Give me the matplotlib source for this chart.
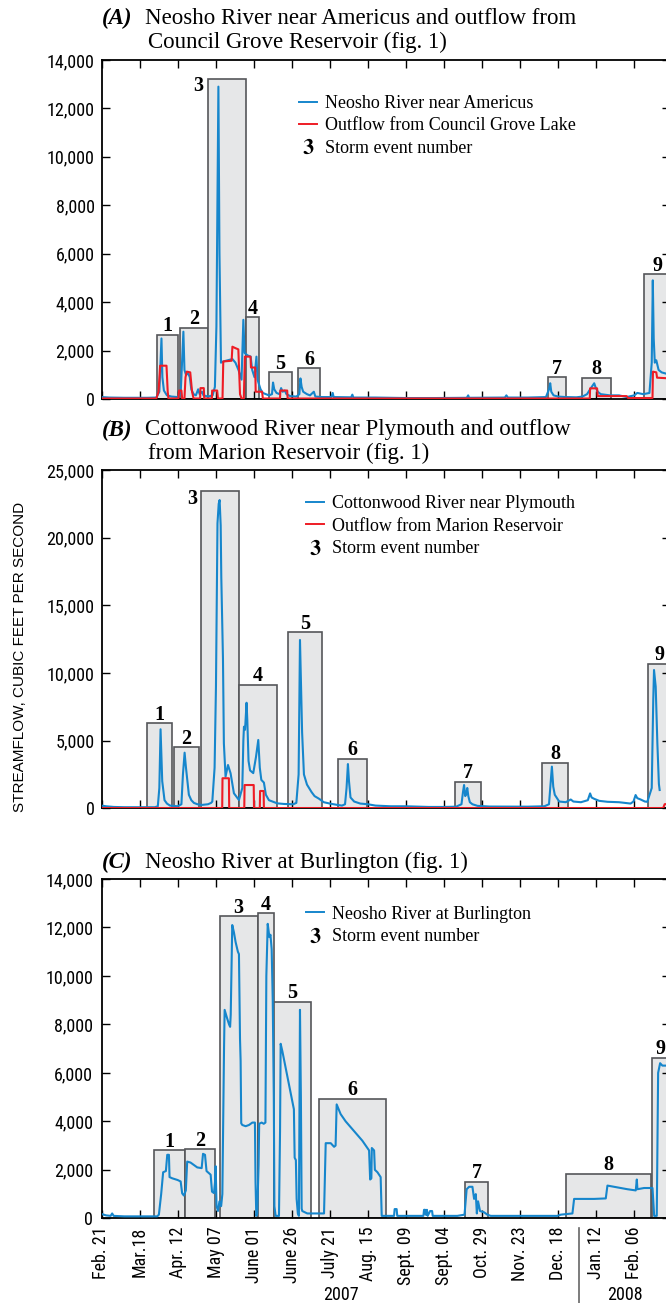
import matplotlib
matplotlib.use("Agg")
import matplotlib.pyplot as plt
import matplotlib.transforms as mtransforms
from matplotlib import font_manager
from matplotlib.lines import Line2D
from matplotlib.patches import Rectangle
from matplotlib.ticker import FuncFormatter

plt.rcParams['font.family'] = ['Liberation Serif', 'DejaVu Serif']
plt.rcParams['mathtext.fontset'] = 'stix'

# x axis = days since Feb. 21, 2007
tick_days = [0, 25, 50, 75, 100, 125, 150, 175, 200, 225, 250, 275, 300, 325, 350]
tick_labels = ["Feb. 21", "Mar.18", "Apr. 12", "May 07", "June 01", "June 26", "July 21",
               "Aug. 15", "Sept. 09", "Sept. 04", "Oct. 29", "Nov. 23", "Dec. 18",
               "Jan. 12", "Feb. 06"]
year_start_2008 = 314
x_max = 373.5

# ---- (A) Neosho River near Americus / Council Grove outflow
a_box_start = [36.6, 51.5, 69.9, 94.9, 110.2, 129.1, 293.4, 316.0, 356.6]
a_box_end = [50.2, 69.7, 94.9, 103.7, 125.1, 143.5, 305.5, 334.7, 385.0]
a_box_top = [2655, 2945, 13215, 3375, 1100, 1270, 895, 885, 5150]

a_blue_day = [0, 5, 15, 30, 36, 38, 39.4, 40, 41, 43, 46, 50, 52, 53.8, 54.5, 55.5, 57, 58, 59,
              60.5, 62, 63.5, 64.5, 66, 67, 70, 73, 74.5, 75.5, 76.8, 77.5, 78.5, 80, 83, 86, 88,
              90, 92, 93.2, 94, 96, 98, 99, 100.5, 101.8, 102.5, 104.5, 106, 108, 110, 112, 112.7,
              113.5, 115, 117, 118, 119, 120.4, 121.5, 124, 128, 130, 130.7, 131.5, 132.5, 135,
              137, 139.5, 140.5, 145, 151, 151.9, 152.5, 164, 164.8, 165.5, 180, 200, 220, 240,
              240.9, 241.5, 265, 266, 267, 280, 292, 294, 294.8, 295.5, 297, 300, 305, 312, 316,
              319, 321, 323.7, 324.5, 326, 328, 334, 340, 345, 350, 352, 356, 360, 361.5, 362.2,
              362.8, 363.5, 364.5, 366, 368, 373.5]
a_blue_cfs = [80, 60, 50, 50, 60, 300, 2500, 900, 350, 150, 100, 80, 200, 2780, 1200, 1000, 1050,
              900, 400, 200, 150, 400, 200, 300, 150, 100, 150, 500, 3000, 12900, 6000, 1500,
              1550, 1600, 1650, 1500, 1200, 800, 3270, 1900, 1800, 1750, 1200, 900, 1750, 800, 400,
              250, 200, 150, 200, 680, 400, 250, 200, 450, 300, 350, 200, 120, 100, 200, 850, 500,
              300, 200, 150, 300, 100, 80, 80, 250, 80, 70, 180, 60, 60, 40, 40, 50, 150, 50, 60,
              150, 60, 60, 80, 400, 650, 300, 150, 100, 80, 70, 100, 200, 400, 650, 500, 300, 200,
              150, 150, 80, 150, 250, 200, 250, 1500, 4900, 2500, 1500, 1600, 1200, 1100, 1000]
a_red_day = [0, 36, 37.5, 38.5, 42.7, 43.5, 44, 50.5, 51, 52.5, 53, 54.5, 55.2, 56, 58.3, 59.5,
             60.5, 64.8, 65, 67.2, 67.5, 72.5, 72.7, 76, 76.5, 79.5, 80, 85.5, 86, 88, 89.9, 91,
             92, 93.5, 94.2, 97.9, 98.2, 101, 101.3, 105.5, 106, 117.3, 117.5, 122, 122.3, 320.8,
             321, 325.6, 326, 345, 346, 362, 362.3, 364.5, 365, 373.5]
a_red_cfs = [20, 20, 300, 1375, 1375, 300, 20, 20, 350, 350, 20, 20, 900, 1130, 1100, 300, 20,
             20, 450, 450, 20, 20, 350, 350, 20, 20, 1550, 1580, 2160, 2100, 2050, 200, 20, 20,
             1750, 1750, 1300, 1300, 300, 300, 20, 20, 350, 350, 20, 20, 440, 440, 120, 120, 40,
             40, 1130, 1100, 880, 850]

# ---- (B) Cottonwood River near Plymouth / Marion outflow
b_box_start = [30.0, 47.6, 65.5, 90.1, 122.5, 155.4, 232.5, 289.7, 359.2]
b_box_end = [46.5, 64.0, 90.1, 115.3, 144.9, 174.2, 249.3, 306.2, 385.0]
b_box_top = [6280, 4510, 23420, 9135, 13000, 3665, 1940, 3380, 10660]

b_blue_day = [0, 3, 8, 15, 25, 35, 37, 38, 38.8, 39.9, 41.4, 43, 45, 50, 52.5, 53.5, 54.6, 55.5,
              57.4, 59, 60.7, 63, 66, 70, 72, 72.8, 74.3, 75.2, 76.2, 77.0, 77.6, 78.3, 78.7,
              79.8, 80.4, 81.5, 83.1, 84.8, 87.0, 90.3, 92.5, 93.2, 93.6, 94.3, 95.3, 95.8, 96.6,
              97.6, 99.7, 101.5, 103.0, 104.0, 105.0, 106.7, 108, 110.0, 115.5, 120, 126, 128,
              129.5, 130.4, 131, 131.8, 133, 135, 138, 140, 143, 146, 150, 155, 158, 160, 161,
              161.9, 162.6, 163.6, 166, 170, 175, 180, 190, 200, 215, 225, 233, 236.5, 237.5,
              238.2, 239, 239.7, 240.3, 241, 242, 243.7, 247, 255, 280, 291, 294, 295.2, 295.9,
              296.8, 297.8, 300.7, 305, 308.3, 310, 315, 319.5, 321, 322, 323.7, 327, 332.5, 340,
              347.6, 349.5, 350.9, 352, 354.2, 357, 358.6, 361.5, 362.5, 363, 364.1, 365.2, 366.2,
              366.7]
b_blue_cfs = [200, 150, 100, 80, 80, 80, 150, 1500, 5840, 2000, 600, 350, 200, 150, 300, 2500,
              4110, 3000, 1000, 600, 400, 300, 250, 300, 400, 500, 3000, 9000, 21060, 22500,
              22780, 20900, 17100, 11080, 4800, 2340, 3200, 2590, 1110, 610, 1500, 5000, 6030,
              5800, 7800, 6500, 3500, 2800, 2600, 3800, 5050, 3000, 2100, 1900, 1000, 600, 365,
              320, 300, 400, 2500, 12440, 9500, 5600, 2500, 1750, 1200, 900, 700, 450, 350, 250,
              200, 300, 1500, 3270, 2000, 800, 500, 350, 300, 200, 150, 150, 100, 100, 120, 300,
              1200, 1720, 900, 1100, 1500, 900, 450, 300, 180, 130, 120, 150, 300, 2000, 3080,
              1600, 1000, 500, 450, 650, 500, 450, 600, 1100, 800, 700, 550, 480, 450, 350, 500,
              980, 750, 650, 500, 480, 1500, 8000, 10220, 8990, 4800, 1800, 1350]
b_red_day = [0, 79.3, 79.5, 83.7, 83.9, 93.8, 94.0, 100.0, 100.2, 104.0, 104.2, 106.5, 106.7,
             369, 370, 373.5]
b_red_cfs = [20, 20, 2220, 2220, 20, 20, 1720, 1720, 20, 20, 1280, 1280, 20, 20, 300, 350]

# ---- (C) Neosho River at Burlington
c_box_start = [34.4, 54.6, 77.8, 102.5, 113.3, 142.9, 238.9, 305.1, 361.4]
c_box_end = [54.6, 74.5, 102.5, 113.3, 137.4, 186.9, 254.2, 361.0, 385.0]
c_box_top = [2800, 2840, 12460, 12580, 8940, 4920, 1510, 1840, 6610]

c_blue_day = [0, 3, 6, 7, 8, 15, 30, 36.6, 37.7, 39.2, 40.5, 42.3, 43.2, 44.3, 44.7, 46.5, 50,
              52.0, 53.0, 54.1, 55.4, 56.3, 58.5, 60.7, 62.9, 65.8, 66.7, 68.0, 69.0, 71.7, 72.6,
              73.9, 74.6, 75.0, 75.6, 76.5, 77.5, 78.6, 79.4, 80.5, 80.9, 82.3, 83.8, 84.5, 84.9,
              85.9, 87.0, 88.1, 89.6, 90.3, 91.0, 91.4, 91.8, 92.5, 94.7, 96.9, 99.1, 100.8,
              101.2, 101.7, 102.3, 103.2, 103.6, 105.2, 106.6, 107.7, 108.3, 109.2, 110.3, 111.0,
              111.8, 112.5, 113.2, 113.6, 114.4, 116.6, 117.3, 117.7, 118.8, 121.0, 123.2, 125.4,
              126.4, 126.9, 127.7, 128.2, 129.0, 129.7, 130.1, 130.4, 131.0, 131.5, 131.9, 135.2,
              146.2, 147.3, 150.6, 152.8, 153.8, 154.5, 157.1, 160.4, 165.9, 171.4, 175.8, 176.5,
              177.3, 177.6, 179.1, 179.6, 181.3, 183.4, 184.1, 192.2, 192.6, 193.9, 194.3, 211.5,
              211.9, 212.6, 213.0, 213.5, 213.8, 214.3, 215.9, 217.2, 217.6, 233.8, 238.5, 239.9,
              241.5, 243.7, 244.8, 245.9, 246.6, 247.4, 248.7, 251.3, 253.5, 255.7, 299.5, 301.7,
              309.4, 310.5, 314.8, 323.6, 331.3, 332.4, 336.8, 345.5, 351.0, 351.7, 352.1, 356.5,
              362.0, 363.1, 364.8, 365.7, 367.0, 368.5, 373.5]
c_blue_cfs = [180, 120, 100, 200, 100, 80, 80, 80, 150, 1000, 1900, 1950, 2620, 2620, 1700,
              1650, 1580, 1520, 1030, 940, 1150, 2340, 2300, 2200, 2100, 2070, 2660, 2620, 1950,
              1800, 1100, 1040, 1500, 2150, 500, 300, 700, 500, 1000, 7000, 8600, 8300, 8000,
              7900, 8400, 12100, 11800, 11400, 11000, 10900, 7400, 6500, 3920, 3850, 3800, 3850,
              3950, 3950, 1500, 100, 200, 2200, 3900, 3950, 3900, 3950, 10000, 12150, 11600,
              11700, 11100, 9000, 5000, 500, 100, 100, 3600, 7200, 6900, 6200, 5500, 4800, 4500,
              2500, 2400, 800, 200, 100, 5000, 8600, 5000, 400, 300, 200, 200, 3100, 3100, 2950,
              3000, 4700, 4300, 4000, 3600, 3200, 2800, 1600, 1650, 2900, 2800, 2000, 1900, 1700,
              100, 100, 380, 380, 100, 100, 350, 350, 150, 150, 350, 100, 300, 300, 100, 100, 150,
              1200, 1300, 1300, 800, 1000, 200, 700, 300, 250, 150, 100, 100, 150, 200, 800, 800,
              800, 820, 1350, 1300, 1200, 1150, 1600, 1200, 1250, 1250, 100, 100, 6000, 6400,
              6300, 6300]

BLUE = '#1686cc'
RED = '#ee1c25'
BOX_FILL = '#e6e7e8'
BOX_EDGE = '#55565a'
SANS = ['Liberation Sans', 'DejaVu Sans']

# condensed sans for the axis numbers if one is installed, else plain sans a bit smaller
narrow_file = None
for f in font_manager.fontManager.ttflist:
    base = f.fname.lower()
    if ('narrow' in base or 'condensed' in base) and 'bold' not in base and 'italic' not in base \
            and 'oblique' not in base and 'serif' not in base and 'mono' not in base:
        narrow_file = f.fname
        if 'liberation' in base:
            break
if narrow_file:
    NUM_FONT = dict(fontproperties=font_manager.FontProperties(fname=narrow_file, size=13))
    num_small = dict(fontproperties=font_manager.FontProperties(fname=narrow_file, size=13))
else:
    NUM_FONT = dict(fontfamily=SANS, fontsize=11.5)
    num_small = dict(fontfamily=SANS, fontsize=11)

fig = plt.figure(figsize=(6.66, 13.03), dpi=100)
W, H = 666.0, 1303.0
left = 101.5 / W
width = (670 - 101.5) / W


def make_axes(top_px, bottom_px):
    return fig.add_axes([left, 1 - bottom_px / H, width, (bottom_px - top_px) / H])


def draw_panel(ax, starts, ends, tops, side_labels, ymax, ystep, series, legend_labels, anchor):
    for i, (s, e, t) in enumerate(zip(starts, ends, tops)):
        ax.add_patch(Rectangle((s, 0), e - s, t, facecolor=BOX_FILL, edgecolor=BOX_EDGE,
                               linewidth=1.2, zorder=1))
        n = i + 1
        if n in side_labels:
            ax.annotate(str(n), (s, t), xytext=(-3, 2), textcoords='offset points',
                        ha='right', va='top', fontsize=14.5, fontweight='bold', zorder=5)
        else:
            xc = (s + min(e, x_max)) / 2
            ax.annotate(str(n), (xc, t), xytext=(0, -1), textcoords='offset points',
                        ha='center', va='bottom', fontsize=14.5, fontweight='bold', zorder=5)
    for days, vals, color, z in series:
        ax.plot(days, vals, color=color, linewidth=1.5, zorder=z, solid_joinstyle='round')

    handles = [Line2D([], [], color=BLUE, lw=1.4)]
    if len(legend_labels) == 3:
        handles.append(Line2D([], [], color=RED, lw=1.4))
    handles.append(Line2D([], [], color='none', marker=r'$\mathbf{3}$', markersize=11,
                          markerfacecolor='black', markeredgecolor='black', markeredgewidth=0))
    ax.legend(handles, legend_labels, loc='upper left', bbox_to_anchor=anchor, frameon=False,
              fontsize=13, handlelength=1.0, handletextpad=0.45, labelspacing=0.3,
              borderpad=0, borderaxespad=0)

    ax.set_xlim(0, x_max)
    ax.set_ylim(0, ymax)
    ax.set_xticks(tick_days)
    ax.set_yticks(range(0, ymax + 1, ystep))
    ax.yaxis.set_major_formatter(FuncFormatter(lambda v, p: '{:,.0f}'.format(v)))
    ax.tick_params(direction='in', length=6, width=1.0, top=True, right=True,
                   labelbottom=False, pad=5)
    for lab in ax.get_yticklabels():
        if narrow_file:
            lab.set_fontproperties(NUM_FONT['fontproperties'])
        else:
            lab.set_fontfamily(SANS)
            lab.set_fontsize(11.5)
    for sp in ax.spines.values():
        sp.set_linewidth(1.3)


# (A)
axA = make_axes(60, 399)
draw_panel(axA, a_box_start, a_box_end, a_box_top, [3], 14000, 2000,
           [(a_blue_day, a_blue_cfs, BLUE, 3), (a_red_day, a_red_cfs, RED, 4)],
           ['Neosho River near Americus', 'Outflow from Council Grove Lake', 'Storm event number'],
           (0.347, 0.897))

# (B)
axB = make_axes(470, 808.3)
draw_panel(axB, b_box_start, b_box_end, b_box_top, [3], 25000, 5000,
           [(b_blue_day, b_blue_cfs, BLUE, 3), (b_red_day, b_red_cfs, RED, 4)],
           ['Cottonwood River near Plymouth', 'Outflow from Marion Reservoir', 'Storm event number'],
           (0.360, 0.925))

# (C)
axC = make_axes(879, 1218.3)
draw_panel(axC, c_box_start, c_box_end, c_box_top, [], 14000, 2000,
           [(c_blue_day, c_blue_cfs, BLUE, 3)],
           ['Neosho River at Burlington', 'Storm event number'],
           (0.360, 0.921))
axC.tick_params(labelbottom=True, pad=6)
axC.set_xticklabels(tick_labels, rotation=90, **num_small)

# year labels and separator
trans = mtransforms.blended_transform_factory(axC.transData, axC.transAxes)
axC.add_line(Line2D([year_start_2008, year_start_2008], [-0.03, -0.26], transform=trans,
                    color='#666666', lw=1.2, clip_on=False))
axC.text(year_start_2008 / 2, -0.226, '2007', transform=trans, ha='center', va='center',
         **NUM_FONT)
axC.text((year_start_2008 + x_max) / 2, -0.226, '2008', transform=trans, ha='center',
         va='center', **NUM_FONT)


# titles
def title(y_px, lines, letter):
    fig.text(102 / W, 1 - y_px[0] / H, letter, fontsize=16.5, fontweight='bold',
             fontstyle='italic', va='center', ha='left')
    for k, (ln, yp) in enumerate(zip(lines, y_px)):
        fig.text((145 + 3 * k) / W, 1 - yp / H, ln, fontsize=16.5, va='center', ha='left')


title([18.5, 42], ['Neosho River near Americus and outflow from', 'Council Grove Reservoir (fig. 1)'], '(A)')
title([430, 453.5], ['Cottonwood River near Plymouth and outflow', 'from Marion Reservoir (fig. 1)'], '(B)')
title([862], ['Neosho River at Burlington (fig. 1)'], '(C)')

fig.text(20 / W, 1 - 656.5 / H, 'STREAMFLOW, CUBIC FEET PER SECOND', rotation=90,
         ha='center', va='center', fontfamily=SANS, fontsize=11)

fig.savefig('out.png', dpi=100)
